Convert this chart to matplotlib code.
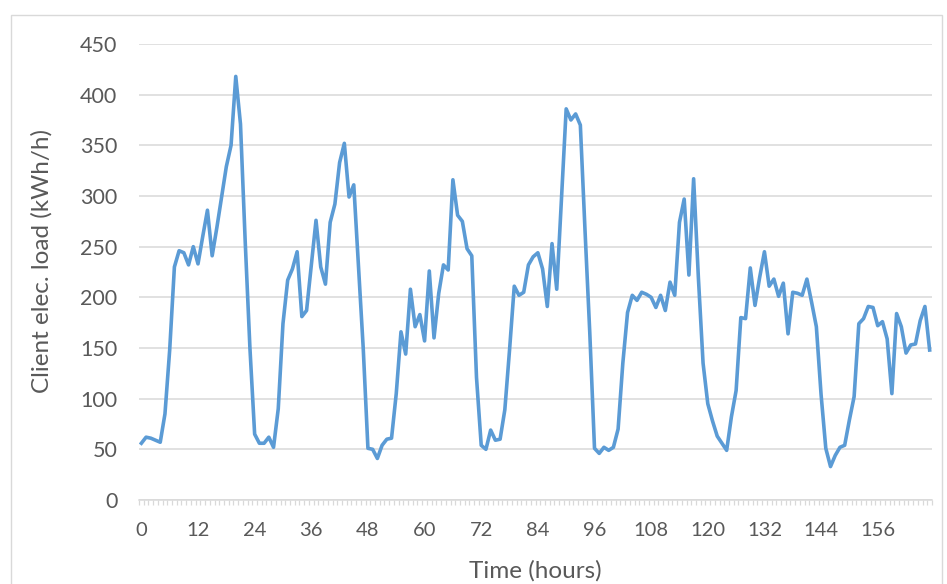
import matplotlib
matplotlib.use("Agg")
import matplotlib.pyplot as plt
from matplotlib.patches import Rectangle
import numpy as np

# ---- data (hourly client electric load, kWh/h) ----
hours = list(range(168))
load_day1 = [56, 62, 61, 59, 57, 85, 148, 230, 246, 244, 232, 250, 233, 260, 286, 241,
             269, 299, 329, 350, 418, 371, 255, 150]
load_day2 = [65, 56, 56, 62, 52, 90, 174, 217, 228, 245, 181, 187, 231, 276, 230, 213,
             274, 292, 333, 352, 299, 311, 230, 150]
load_day3 = [51, 50, 41, 54, 60, 61, 105, 166, 144, 208, 171, 183, 157, 226, 160, 204,
             232, 227, 316, 281, 275, 248, 241, 121]
load_day4 = [54, 50, 69, 59, 60, 89, 148, 211, 202, 205, 232, 240, 244, 228, 191, 253,
             208, 297, 386, 375, 381, 370, 265, 165]
load_day5 = [51, 46, 52, 49, 52, 70, 135, 185, 202, 197, 205, 203, 200, 190, 202, 187,
             215, 202, 274, 297, 222, 317, 220, 135]
load_day6 = [95, 78, 63, 56, 49, 82, 108, 180, 179, 229, 192, 220, 245, 211, 218, 201,
             214, 164, 205, 204, 202, 218, 195, 171]
load_day7 = [104, 51, 33, 44, 52, 54, 79, 102, 174, 179, 191, 190, 172, 176, 159, 105,
             184, 171, 145, 153, 154, 177, 191, 148]
load = load_day1 + load_day2 + load_day3 + load_day4 + load_day5 + load_day6 + load_day7

x_tick_values = list(range(0, 157, 12))
x_tick_labels = [str(v) for v in x_tick_values]
y_tick_values = list(range(0, 451, 50))
y_tick_labels = [str(v) for v in y_tick_values]

x_title = "Time (hours)"
y_title = "Client elec. load (kWh/h)"

# ---- styling ----
W, H = 947, 584
FONT = ["Lato", "DejaVu Sans"]
TEXT_COLOR = "#595959"
GRID_COLOR = "#D9D9D9"
LINE_COLOR = "#5B9BD5"

plt.rcParams["font.family"] = FONT

fig = plt.figure(figsize=(W / 100, H / 100), dpi=100)
fig.patch.set_facecolor("white")

# chart-area border
fig.patches.append(Rectangle((11 / W, -0.05), (942 - 11) / W, 1.05 - 15 / H,
                             transform=fig.transFigure, fill=False,
                             edgecolor=GRID_COLOR, linewidth=1.0))

left, right, top, bottom = 139, 932, 44, 500
ax = fig.add_axes([left / W, 1 - bottom / H, (right - left) / W, (bottom - top) / H])

ax.plot(hours, load, color=LINE_COLOR, linewidth=2.6, solid_joinstyle="round", zorder=3)

ax.set_xlim(-0.5, len(hours) - 0.5)
ax.set_ylim(0, 450)

ax.set_yticks(y_tick_values)
ax.set_yticklabels(y_tick_labels)
ax.set_xticks(x_tick_values)
ax.set_xticklabels(x_tick_labels)
ax.set_xticks(np.arange(-0.5, len(hours), 1.0), minor=True)

ax.tick_params(axis="y", length=0, pad=15.5, labelsize=15.5, labelcolor=TEXT_COLOR)
ax.tick_params(axis="x", which="major", length=0, pad=16, labelsize=14.5, labelcolor=TEXT_COLOR)
ax.tick_params(axis="x", which="minor", length=3.8, width=0.9, color=GRID_COLOR, direction="out")

ax.grid(axis="y", color=GRID_COLOR, linewidth=1.1, zorder=0)
ax.set_axisbelow(True)
for s in ["left", "top", "right"]:
    ax.spines[s].set_visible(False)
ax.spines["bottom"].set_color(GRID_COLOR)
ax.spines["bottom"].set_linewidth(1.1)

fig.text(535 / W, 1 - 571 / H, x_title, ha="center", va="center",
         fontsize=17.5, color=TEXT_COLOR)
fig.text(42 / W, 1 - 261 / H, y_title, ha="center", va="center", rotation=90,
         fontsize=17.5, color=TEXT_COLOR)

fig.savefig("out.png", dpi=100, facecolor="white")
